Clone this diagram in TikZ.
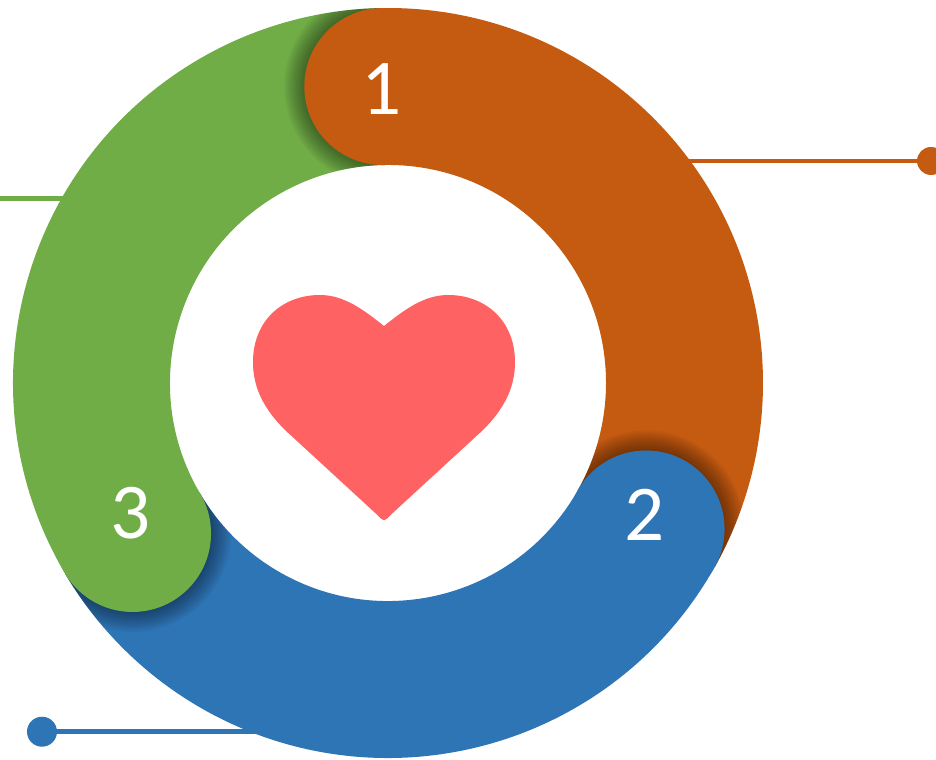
\documentclass[tikz,border=0pt]{standalone}
\usepackage{fontspec}
\setmainfont{Carlito}
\definecolor{segorange}{HTML}{C55A11}
\definecolor{seggreen}{HTML}{70AD47}
\definecolor{segblue}{HTML}{2E75B6}
\definecolor{heartred}{HTML}{FF6262}
\begin{document}
\begin{tikzpicture}[x=0.02cm, y=0.02cm,
seg/.style={line width=3.14cm},
lead/.style={line width=0.09cm},
num/.style={text=white, font=\fontsize{45}{54}\selectfont, anchor=base, inner sep=0pt}]
\useasboundingbox (-388,383) rectangle (548,-377);

\coordinate (cap1) at (91:296.5);
\coordinate (cap2) at (-29.5:296.5);
\coordinate (cap3) at (210.5:296.5);
\coordinate (end1) at (280,222);
\coordinate (dot1) at (543,222);
\coordinate (end2) at (-120,-348.7);
\coordinate (dot2) at (-346,-348.7);
\coordinate (end3) at (-280,184.3);
\coordinate (edge3) at (-390,184.3);

\draw[segorange, lead] (end1) -- (dot1);
\fill[segorange] (dot1) circle[radius=14];
\draw[segblue, lead] (dot2) -- (end2);
\fill[segblue] (dot2) circle[radius=15];
\draw[seggreen, lead] (edge3) -- (end3);

\draw[seg, seggreen] (210.5:296.5) arc[start angle=210.5, end angle=91, radius=296.5];
\draw[seg, segorange] (91:296.5) arc[start angle=91, end angle=-29.5, radius=296.5];
\draw[seg, segblue] (-29.5:296.5) arc[start angle=-29.5, end angle=-149.5, radius=296.5];

\foreach \c/\a/\col in {cap1/91/segorange, cap2/-29.5/segblue, cap3/210.5/seggreen} {
\begin{scope}[even odd rule]
\clip (0,0) circle[radius=375] (0,0) circle[radius=218];
\clip (0,0) -- (\a:1000) -- (\a+90:1000) -- (\a+180:1000) -- cycle;
\foreach \k in {1,...,10} \fill[black, opacity=0.045] (\c) circle[radius={78.5+2*\k}];
\end{scope}
\fill[\col] (\c) circle[radius=78.5];
}

\node[num] (num1) at (-6,268) {1};
\node[num] (num2) at (257,-157) {2};
\node[num] (num3) at (-257,-155) {3};

\begin{scope}[shift={(-4,0)}]
\fill[heartred] (0,57) .. controls (-20,73) and (-40,88) .. (-64,88)
.. controls (-102,88) and (-131,62) .. (-131,21)
.. controls (-131,-5) and (-120,-26) .. (-99,-47)
-- (-7,-131.6) .. controls (0,-139) .. (7,-131.6)
-- (99,-47)
.. controls (120,-26) and (131,-5) .. (131,21)
.. controls (131,62) and (102,88) .. (64,88)
.. controls (40,88) and (20,73) .. (0,57) -- cycle;
\end{scope}

\end{tikzpicture}
\end{document}
